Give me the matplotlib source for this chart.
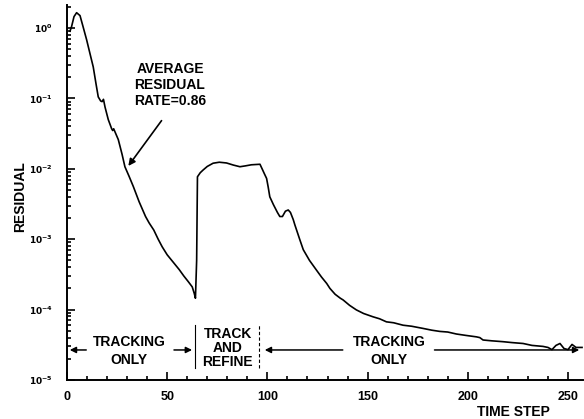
import numpy as np
import matplotlib.pyplot as plt
from matplotlib.ticker import FixedLocator, FuncFormatter, LogLocator, NullFormatter

plt.rcParams['font.family'] = ['Liberation Sans', 'DejaVu Sans']
plt.rcParams['font.weight'] = 'bold'

# residual history vs. time step
time_step = [1.5, 2.3, 3.5, 4.8, 6.5, 8, 9.8, 11.5, 13.1, 14.5, 15.6, 16.8, 17.5, 18.2, 19,
             20.6, 22.3, 22.8, 23.3, 25.6, 27.5, 28.9, 31, 33.1, 36, 39.2, 41, 43.3, 45.5,
             47.5, 50, 53.3, 56, 58.3, 60.5, 62.5, 63.5, 64.1, 64.7, 65.1, 66.5, 67.9, 70,
             72.9, 76, 79.6, 83, 86.3, 89, 92, 96.3, 97.5, 98.5, 99.6, 100.4, 101.2, 103,
             105, 106.2, 107.5, 109, 110.4, 111.5, 112.9, 113.7, 116.2, 117.9, 121, 124.6,
             127, 129.6, 131.2, 133.8, 136.4, 137.8, 141, 144.4, 148, 152.7, 156, 159.4,
             163, 167.7, 172, 177.7, 182, 186, 190, 194.3, 199, 204.3, 206, 207.6, 212,
             217.6, 222, 227.6, 232, 237.5, 240, 242, 244, 246, 248, 250, 252, 254, 257]
residual = [0.9, 1.05, 1.45, 1.65, 1.5, 1.05, 0.68, 0.43, 0.28, 0.16, 0.105, 0.092, 0.09,
            0.097, 0.075, 0.05, 0.037, 0.035, 0.037, 0.026, 0.016, 0.0107, 0.0078, 0.0056,
            0.0034, 0.0021, 0.0017, 0.00135, 0.001, 0.00078, 0.0006, 0.00046, 0.00037,
            0.0003, 0.00025, 0.00021, 0.00017, 0.000145, 0.0005, 0.0077, 0.0088, 0.0096,
            0.0108, 0.012, 0.0124, 0.0121, 0.0113, 0.0107, 0.011, 0.0114, 0.0116, 0.0098,
            0.0085, 0.0073, 0.0055, 0.0040, 0.0031, 0.0024, 0.0021, 0.0021, 0.0025, 0.0026,
            0.0024, 0.0019, 0.0016, 0.00098, 0.00071, 0.0005, 0.00036, 0.00029, 0.000235,
            0.0002, 0.000165, 0.000145, 0.000137, 0.000115, 0.000099, 0.000088, 0.000079,
            0.000074, 0.000067, 0.000065, 0.00006, 0.000058, 0.000054, 0.000051, 0.000049,
            0.000048, 0.000045, 0.000043, 0.000041, 0.00004, 0.000037, 0.000036, 0.000035,
            0.000034, 0.000033, 0.000031, 0.00003, 0.000029, 0.000027, 0.000031, 0.000033,
            0.000028, 0.000027, 0.000032, 0.000029, 0.000029]

x_ticks = [0, 50, 100, 150, 200, 250]
y_ticks = [1e-5, 1e-4, 1e-3, 1e-2, 1e-1, 1e0]

fig = plt.figure(figsize=(5.84, 4.19), dpi=100)
ax = fig.add_axes([0.1147, 0.0931, 0.8833, 0.8949])
ax.set_yscale('log')
ax.set_xlim(0, 257.4)
ax.set_ylim(1e-5, 2.12)

ax.plot(time_step, residual, color='black', lw=1.2)

for s in ['top', 'right']:
    ax.spines[s].set_visible(False)
for s in ['left', 'bottom']:
    ax.spines[s].set_linewidth(1.4)

ax.xaxis.set_major_locator(FixedLocator(x_ticks))
ax.xaxis.set_minor_locator(FixedLocator(np.arange(10, 257, 10)))
ax.yaxis.set_major_locator(FixedLocator(y_ticks))
ax.yaxis.set_minor_locator(LogLocator(base=10, subs=np.arange(2, 10)))
ax.yaxis.set_minor_formatter(NullFormatter())
ax.yaxis.set_major_formatter(FuncFormatter(
    lambda v, p: r'$\mathbf{10^{%d}}$' % round(np.log10(v))))
ax.tick_params(which='both', direction='in', width=1.2)
ax.tick_params(which='major', length=6)
ax.tick_params(which='minor', length=3)
ax.tick_params(axis='y', pad=10, labelsize=6.5)
ax.tick_params(axis='x', pad=8, labelsize=9)
for lab in ax.get_xticklabels():
    lab.set_fontweight('bold')

fs = 10
# convergence rate note
ax.text(51.4, 0.155, 'AVERAGE\nRESIDUAL\nRATE=0.86', ha='center', va='center',
        fontsize=fs, fontweight='bold', linespacing=1.15)
ax.annotate('', xy=(29.8, 0.0102), xytext=(48.0, 0.052),
            arrowprops=dict(arrowstyle='-|>', color='black', lw=1.2, mutation_scale=10))

# phase markers along the bottom
y_arrow = 2.67e-5
arrow_kw = dict(arrowstyle='-|>', color='black', lw=1.1, mutation_scale=9)
ax.annotate('', xy=(0, y_arrow), xytext=(11, y_arrow), arrowprops=arrow_kw)
ax.annotate('', xy=(63.8, y_arrow), xytext=(52, y_arrow), arrowprops=arrow_kw)
ax.annotate('', xy=(97.3, y_arrow), xytext=(139, y_arrow), arrowprops=arrow_kw)
ax.annotate('', xy=(257, y_arrow), xytext=(182, y_arrow), arrowprops=arrow_kw)
ax.plot([63.8, 63.8], [1.48e-5, 6.0e-5], color='black', lw=0.8)
ax.plot([95.8, 95.8], [1.48e-5, 6.0e-5], color='black', lw=0.8, ls=(0, (3, 2)))

for xc in [31.0, 160.6]:
    ax.text(xc, 3.46e-5, 'TRACKING', ha='center', va='center', fontsize=fs,
            fontweight='bold')
    ax.text(xc, 1.92e-5, 'ONLY', ha='center', va='center', fontsize=fs,
            fontweight='bold')
ax.text(80.3, 2.85e-5, 'TRACK\nAND\nREFINE', ha='center', va='center', fontsize=fs,
        fontweight='bold', linespacing=1.0)

fig.text(20 / 584, 1 - 197 / 419, 'RESIDUAL', rotation=90, ha='center', va='center',
         fontsize=fs, fontweight='bold')
fig.text(513 / 584, 1 - 412 / 419, 'TIME STEP', ha='center', va='center',
         fontsize=fs, fontweight='bold')

fig.savefig('out.png', dpi=100)
